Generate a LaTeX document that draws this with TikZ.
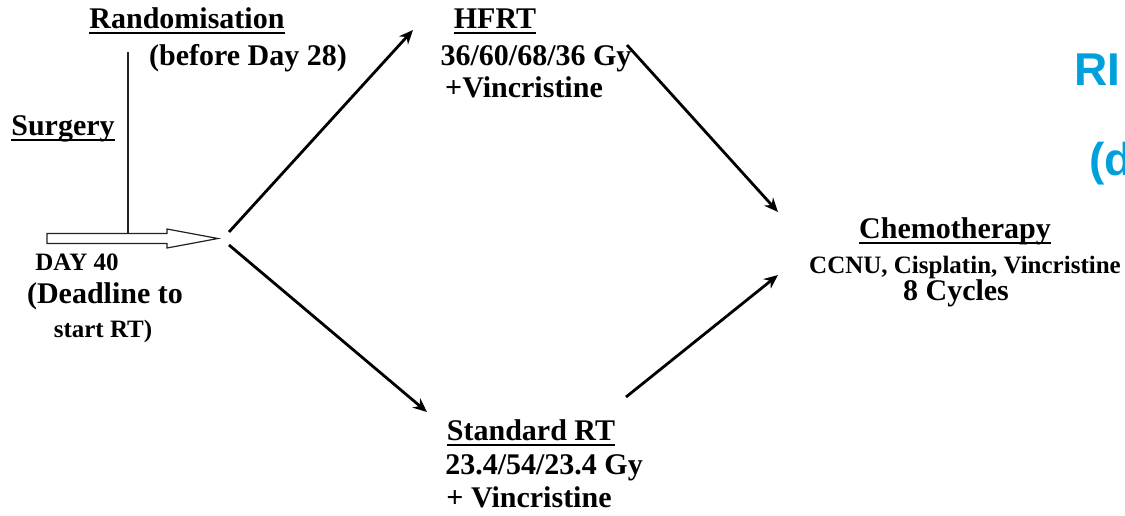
\documentclass[tikz,border=0pt]{standalone}
\usepackage{fontspec}
\setmainfont{Liberation Serif}
\newfontfamily\slidefont{Liberation Sans}
\usepackage{xcolor}
\usepackage{tikz}
\usetikzlibrary{positioning,arrows.meta,calc}
\definecolor{ink}{HTML}{000000}
\definecolor{stemgray}{HTML}{222222}
\definecolor{slideblue}{HTML}{00A0DC}
\newsavebox{\ulsave}
\newcommand{\ulbold}[1]{\sbox{\ulsave}{#1}\rlap{\rule[-3pt]{\wd\ulsave}{1.2pt}}\usebox{\ulsave}}
\tikzset{
    headtext/.style={font=\bfseries\fontsize{15}{18}\selectfont, inner sep=0pt, anchor=base},
    subtext/.style={font=\bfseries\fontsize{12.5}{15}\selectfont, inner sep=0pt, anchor=base},
    slidetext/.style={font=\slidefont\bfseries\fontsize{23}{28}\selectfont, text=slideblue, inner sep=0pt, anchor=base west},
    arrow/.style={-{Stealth[length=7pt, width=6pt]}, line width=1.4pt, color=ink},
    hollow/.style={draw=stemgray, line width=0.6pt, fill=white},
    stem/.style={line width=0.6pt, color=stemgray}
}

\begin{document}
\begin{tikzpicture}[x=0.5pt, y=-0.5pt]

\path[use as bounding box, clip] (0,0) rectangle (1125,515);

\node[headtext] (rand) at (187,28) {\ulbold{Randomisation}};

\node[headtext] (before) at (248,65) {(before Day 28)};

\node[headtext] (surgery) at (63,135) {\ulbold{Surgery}};

\node[subtext] (day) at (77,270) {DAY 40};

\node[headtext] (deadline) at (105,303) {(Deadline to};

\node[subtext] (startrt) at (103,337) {start RT)};

\node[headtext] (hfrt) at (495,28) {\ulbold{HFRT}};

\node[headtext] (hfrtdose) at (536,65) {36/60/68/36 Gy};

\node[headtext] (hfrtvin) at (524,97) {+Vincristine};

\node[headtext] (std) at (531,440) {\ulbold{Standard RT}};

\node[headtext] (stddose) at (544,474) {23.4/54/23.4 Gy};

\node[headtext] (stdvin) at (529,507) {+ Vincristine};

\node[headtext] (chemo) at (955,238) {\ulbold{Chemotherapy}};

\node[subtext] (drugs) at (965,273) {CCNU, Cisplatin, Vincristine};

\node[headtext] (cycles) at (956,300) {8 Cycles};

\node[slidetext] (slideri) at (1074,85) {RI};

\node[slidetext] (slided) at (1089,175) {(d};

\coordinate (tail) at (47,238.5);
\coordinate (tip) at (218,238.5);
\coordinate (randfoot) at (128,52);
\coordinate (randjoin) at (128,233.5);
\coordinate (forkup) at (229,232);
\coordinate (forkdown) at (229,245);
\coordinate (hfrtin) at (413,30);
\coordinate (stdin) at (427,412);
\coordinate (hfrtout) at (627,45);
\coordinate (chemoin) at (778,212);
\coordinate (stdout) at (626,397);
\coordinate (chemoin2) at (778,275);

\draw[hollow] (tail) ++(0,-5) -- ++(120,0) -- ++(0,-4.5) -- (tip) -- ++(-51,9.5) -- ++(0,-4.5) -- ++(-120,0) -- cycle;

\draw[stem] (randfoot) -- (randjoin);

\draw[arrow] (forkup) -- (hfrtin);
\draw[arrow] (forkdown) -- (stdin);
\draw[arrow] (hfrtout) -- (chemoin);
\draw[arrow] (stdout) -- (chemoin2);

\end{tikzpicture}
\end{document}
